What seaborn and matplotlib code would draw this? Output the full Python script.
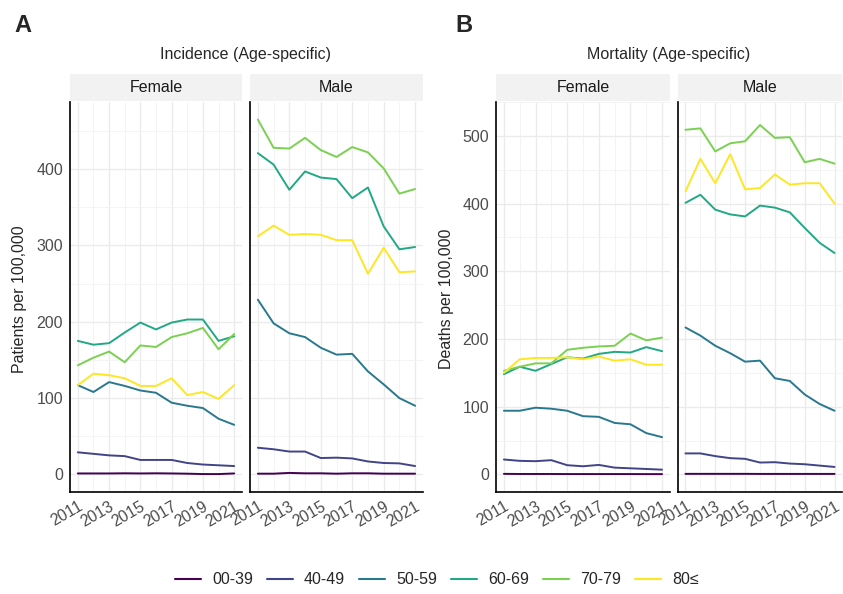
import pandas as pd
import numpy as np

import matplotlib.pyplot as plt
import seaborn as sns

# datos (por 100,000)
years = list(range(2011, 2022))
ages = ["00-39", "40-49", "50-59", "60-69", "70-79", "80≤"]
colors = ["#440154", "#414487", "#2A788E", "#22A884", "#7AD151", "#FDE725"]

inc_female = {
    "00-39": [1.3, 1.3, 1.3, 1.5, 1.3, 1.5, 1.3, 1.0, 0.5, 0.5, 1.3],
    "40-49": [29, 27, 25, 24, 19, 19, 19, 15, 13, 12, 11],
    "50-59": [117, 108, 121, 116, 110, 107, 94, 90, 87, 73, 65],
    "60-69": [175, 170, 172, 186, 199, 190, 199, 203, 203, 175, 181],
    "70-79": [143, 153, 161, 147, 169, 167, 180, 185, 192, 164, 184],
    "80≤": [117, 132, 130, 126, 116, 116, 126, 104, 108, 99, 117],
}
inc_male = {
    "00-39": [1, 1, 2, 1.5, 1.5, 1, 1.5, 1.5, 1, 1, 1],
    "40-49": [35, 33, 30, 30, 21.5, 22, 21, 17, 15, 14.5, 11],
    "50-59": [229, 198, 185, 180, 166, 157, 158, 135, 118, 100, 90],
    "60-69": [421, 406, 373, 397, 389, 387, 362, 376, 325, 295, 298],
    "70-79": [465, 428, 427, 441, 425, 416, 429, 422, 401, 368, 374],
    "80≤": [312, 326, 314, 315, 314, 307, 307, 263, 297, 265, 266],
}
mort_female = {
    "00-39": [0.8, 0.6, 0.6, 0.6, 0.5, 0.5, 0.5, 0.5, 0.5, 0.4, 0.4],
    "40-49": [22, 20, 19.5, 21, 13.6, 12, 14, 10, 9, 8, 7],
    "50-59": [94, 94, 98.5, 97, 94, 86, 85, 76, 74, 61, 55],
    "60-69": [148, 159, 153, 163, 173, 171, 178, 181, 180, 188, 182],
    "70-79": [153, 159, 164, 164, 184, 187, 189, 190, 208, 198, 202],
    "80≤": [150, 170, 172, 172, 173, 170, 174, 168, 170, 162, 162],
}
mort_male = {
    "00-39": [0.8, 0.8, 0.8, 0.8, 0.8, 0.7, 0.7, 0.7, 0.7, 0.7, 0.7],
    "40-49": [31, 31, 27, 24, 23, 17.5, 18, 16, 15, 13, 11],
    "50-59": [217, 205, 190, 179, 166.5, 168, 142, 138, 118, 104, 94],
    "60-69": [401, 413, 391, 384, 381, 397, 394, 387, 364, 342, 327],
    "70-79": [509, 511, 477, 489, 492, 516, 497, 498, 461, 466, 459],
    "80≤": [418, 466, 430, 473, 421, 423, 443, 428, 430, 430, 400],
}


def to_long(d):
    rows = []
    for age in ages:
        for yr, v in zip(years, d[age]):
            rows.append({"year": yr, "age": age, "value": v})
    return pd.DataFrame(rows)


sns.set_style("white")
plt.rcParams['font.family'] = ['Liberation Sans', 'DejaVu Sans']

W, H = 843, 594
fig = plt.figure(figsize=(W / 100, H / 100), dpi=100)


def rect(l, r, t, b):
    return [l / W, 1 - b / H, (r - l) / W, (b - t) / H]


TOP, BOT = 102, 492
STRIP_TOP = 74
tick_col = "#4d4d4d"
FS = 11.5


def draw_facet(l, r, data, ylim, yticks, label, first):
    ax = fig.add_axes(rect(l, r, TOP, BOT))
    sns.lineplot(data=to_long(data), x="year", y="value", hue="age", hue_order=ages,
                 palette=colors, legend=False, linewidth=1.4, ax=ax)
    ax.set_xlim(2010.5, 2021.5)
    ax.set_ylim(*ylim)
    ax.set_xticks(range(2011, 2022, 2))
    ax.set_xticks(range(2012, 2022, 2), minor=True)
    step = yticks[1] - yticks[0]
    ax.set_yticks(yticks)
    ax.set_yticks([y + step / 2 for y in yticks], minor=True)
    ax.grid(which="major", color="#ebebeb", linewidth=1.0)
    ax.grid(which="minor", color="#f3f3f3", linewidth=0.6)
    ax.set_axisbelow(True)
    for s in ["top", "right"]:
        ax.spines[s].set_visible(False)
    for s in ["left", "bottom"]:
        ax.spines[s].set_color("black")
        ax.spines[s].set_linewidth(1.2)
    ax.tick_params(axis="x", which="major", length=3, color="black", labelsize=FS,
                   labelcolor=tick_col, rotation=30, pad=2)
    ax.tick_params(which="minor", length=0)
    for t in ax.get_xticklabels():
        t.set_ha("right")
        t.set_rotation_mode("anchor")
    if first:
        ax.tick_params(axis="y", which="major", length=3, color="black", labelsize=FS,
                       labelcolor=tick_col, pad=2)
    else:
        ax.tick_params(axis="y", which="major", length=0, labelleft=False)
    ax.set_xlabel("")
    ax.set_ylabel("")

    # franja del facet
    sax = fig.add_axes(rect(l, r, STRIP_TOP, TOP - 1))
    sax.set_facecolor("#f2f2f2")
    sax.set_xticks([])
    sax.set_yticks([])
    for s in sax.spines.values():
        s.set_visible(False)
    sax.text(0.5, 0.5, label, ha="center", va="center", fontsize=FS, color="#1a1a1a",
             transform=sax.transAxes)
    return ax


# Panel A: incidencia
draw_facet(70, 242, inc_female, (-23, 488), [0, 100, 200, 300, 400], "Female", True)
draw_facet(250, 423, inc_male, (-23, 488), [0, 100, 200, 300, 400], "Male", False)

# Panel B: mortalidad
draw_facet(496, 670, mort_female, (-26, 542), [0, 100, 200, 300, 400, 500], "Female", True)
draw_facet(678, 842, mort_male, (-26, 542), [0, 100, 200, 300, 400, 500], "Male", False)

fig.text(246 / W, 1 - 55 / H, "Incidence (Age-specific)", ha="center", va="center", fontsize=FS)
fig.text(669 / W, 1 - 55 / H, "Mortality (Age-specific)", ha="center", va="center", fontsize=FS)
fig.text(14 / W, 1 - 25 / H, "A", ha="left", va="center", fontsize=17, fontweight="bold")
fig.text(455 / W, 1 - 25 / H, "B", ha="left", va="center", fontsize=17, fontweight="bold")
fig.text(20 / W, 1 - 299 / H, "Patients per 100,000", rotation=90, ha="center", va="center", fontsize=FS)
fig.text(447 / W, 1 - 299 / H, "Deaths per 100,000", rotation=90, ha="center", va="center", fontsize=FS)

# leyenda
handles = [plt.Line2D([], [], color=c, linewidth=1.5) for c in colors]
fig.legend(handles, ages, loc="center", bbox_to_anchor=(437 / W, 1 - 580 / H), ncol=6,
           frameon=False, fontsize=FS, handlelength=1.6, columnspacing=0.9, handletextpad=0.7)

plt.savefig("out.png", dpi=100)
